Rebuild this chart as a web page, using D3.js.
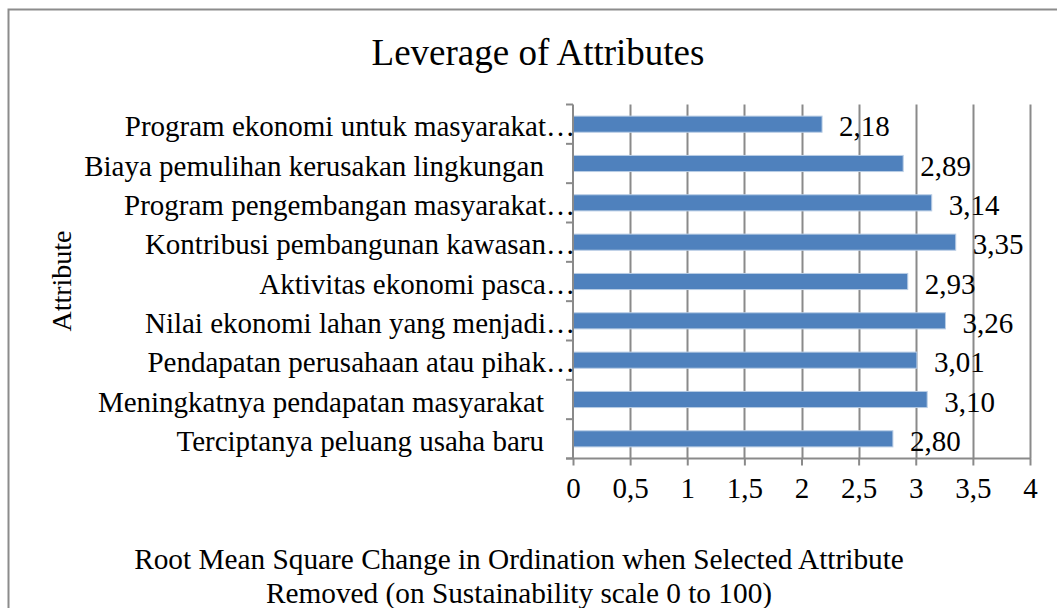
<!DOCTYPE html>
<html>
<head>
<meta charset="utf-8">
<script src="https://cdn.jsdelivr.net/npm/d3@7"></script>
<style>
  body { margin: 0; background: #fff; }
  text { font-family: "Liberation Serif", "Times New Roman", serif; fill: #000; }
</style>
</head>
<body>
<div id="chart"></div>
<script>
// chart data, top to bottom as drawn
var attributes = [
  "Program ekonomi untuk masyarakat…",
  "Biaya pemulihan kerusakan lingkungan",
  "Program pengembangan masyarakat…",
  "Kontribusi pembangunan kawasan…",
  "Aktivitas ekonomi pasca…",
  "Nilai ekonomi lahan yang menjadi…",
  "Pendapatan perusahaan atau pihak…",
  "Meningkatnya pendapatan masyarakat",
  "Terciptanya peluang usaha baru"
];
var leverage = [2.18, 2.89, 3.14, 3.35, 2.93, 3.26, 3.01, 3.10, 2.80];
var xTicks = [0, 0.5, 1, 1.5, 2, 2.5, 3, 3.5, 4];

var titleText = "Leverage of Attributes";
var yTitle = "Attribute";
var xTitleLines = [
  "Root Mean Square Change in Ordination when Selected Attribute",
  "Removed (on Sustainability scale 0 to 100)"
];

var svgWidth = 1057;
var svgHeight = 608;

var margin = { top: 104.5, left: 573, right: 27, bottom: 150 };
var plotW = svgWidth - margin.left - margin.right;   // 0..4 -> 573..1030
var plotH = 458.5 - margin.top;

var fmt = function(v) { return d3.format(".2f")(v).replace(".", ","); };
var fmtTick = function(v) { return String(v).replace(".", ","); };

var svg = d3.select("#chart")
  .append("svg")
  .attr("width", svgWidth)
  .attr("height", svgHeight);

// outer frame of the chart
svg.append("rect")
  .attr("x", 8.5).attr("y", 9.5)
  .attr("width", 1080).attr("height", 640)
  .attr("fill", "none")
  .attr("stroke", "#8c8c8c")
  .attr("stroke-width", 2);

var g = svg.append("g")
  .attr("transform", `translate(${margin.left}, ${margin.top})`);

var x = d3.scaleLinear().domain([0, 4]).range([0, plotW]);
var y = d3.scaleBand().domain(attributes).range([0, plotH]).paddingInner(0.59).paddingOuter(0.295);
var yBand = d3.scaleBand().domain(attributes).range([0, plotH]);

// vertical gridlines
g.selectAll(".grid")
  .data(xTicks.slice(1))
  .enter()
  .append("line")
  .attr("class", "grid")
  .attr("x1", d => Math.round(x(d)) + 0.5)
  .attr("x2", d => Math.round(x(d)) + 0.5)
  .attr("y1", 0)
  .attr("y2", plotH)
  .attr("stroke", "#8a8a8a")
  .attr("stroke-width", 2);

// bars
g.selectAll(".bar")
  .data(leverage)
  .enter()
  .append("rect")
  .attr("class", "bar")
  .attr("x", x(0))
  .attr("y", (d, i) => y(attributes[i]))
  .attr("width", d => x(d))
  .attr("height", y.bandwidth())
  .attr("fill", "#4f81bd")
  .attr("stroke", "#b9cde5")
  .attr("stroke-width", 1);

// data labels
g.selectAll(".val")
  .data(leverage)
  .enter()
  .append("text")
  .attr("class", "val")
  .attr("x", d => x(d) + 17)
  .attr("y", (d, i) => yBand(attributes[i]) + yBand.bandwidth() / 2 + 12)
  .attr("font-size", 29)
  .text(d => fmt(d));

// x axis
var xAxis = d3.axisBottom(x).tickValues(xTicks).tickSize(7).tickPadding(14).tickFormat(fmtTick);
var gx = g.append("g")
  .attr("transform", `translate(0, ${plotH})`)
  .call(xAxis);
gx.select(".domain").attr("stroke", "#8a8a8a").attr("stroke-width", 2)
  .attr("d", `M-7,0H${plotW + 1}`);
gx.selectAll(".tick line").attr("stroke", "#8a8a8a").attr("stroke-width", 2);
gx.selectAll(".tick text")
  .attr("font-family", "Liberation Serif, Times New Roman, serif")
  .attr("font-size", 29)
  .attr("fill", "#000")
  .attr("dy", "0.65em");

// y axis: line plus ticks at band edges
var yAxis = d3.axisLeft(yBand).tickSize(0).tickFormat("");
var gy = g.append("g").call(yAxis);
gy.select(".domain").attr("stroke", "#8a8a8a").attr("stroke-width", 2).attr("d", `M0,0V${plotH}`);
gy.selectAll(".edge")
  .data(d3.range(attributes.length + 1))
  .enter()
  .append("line")
  .attr("class", "edge")
  .attr("x1", -7).attr("x2", 0)
  .attr("y1", i => i * yBand.step())
  .attr("y2", i => i * yBand.step())
  .attr("stroke", "#8a8a8a")
  .attr("stroke-width", 2);

// category labels (truncated ones run up to the axis)
g.selectAll(".cat")
  .data(attributes)
  .enter()
  .append("text")
  .attr("class", "cat")
  .attr("x", d => d.endsWith("…") ? 2 : -29)
  .attr("y", d => yBand(d) + yBand.bandwidth() / 2 + 12)
  .attr("text-anchor", "end")
  .attr("font-size", 29)
  .text(d => d);

// title
svg.append("text")
  .attr("x", 538).attr("y", 65)
  .attr("text-anchor", "middle")
  .attr("font-size", 37)
  .text(titleText);

// y axis title
svg.append("text")
  .attr("transform", "translate(71, 281) rotate(-90)")
  .attr("text-anchor", "middle")
  .attr("font-size", 28)
  .text(yTitle);

// x axis title
svg.selectAll(".xtitle")
  .data(xTitleLines)
  .enter()
  .append("text")
  .attr("class", "xtitle")
  .attr("x", 519)
  .attr("y", (d, i) => 569 + i * 34)
  .attr("text-anchor", "middle")
  .attr("font-size", 29.3)
  .text(d => d);
</script>
</body>
</html>
